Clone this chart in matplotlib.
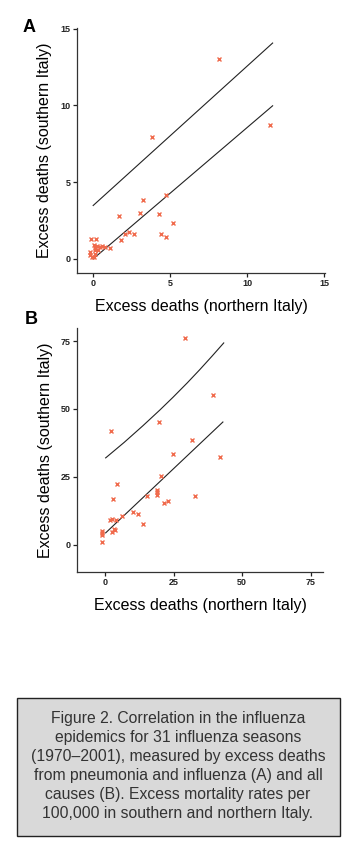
import numpy as np
import matplotlib
matplotlib.use("Agg")
import matplotlib.pyplot as plt
from matplotlib.patches import Rectangle

plt.rcParams['font.family'] = ['Liberation Sans', 'DejaVu Sans']

# panel A: pneumonia and influenza excess deaths
a_north = [8.15, 11.45, 3.85, 3.25, 4.75, 3.05, 4.3, 1.7, 5.2, 2.65, 2.3, 2.05, 1.8, 4.4, 4.7,
           1.1, 0.8, 0.58, -0.15, 0.2, 0.05, 0.25, -0.18, 0.1, -0.18, 0.15, 0.05, 0.3, -0.1, 0.1, 0.45]
a_south = [13.05, 8.75, 7.95, 3.85, 4.15, 3.0, 2.95, 2.8, 2.35, 1.6, 1.75, 1.65, 1.25, 1.65, 1.4,
           0.72, 0.76, 0.83, 1.28, 1.28, 0.9, 0.82, 0.45, 0.55, 0.25, 0.35, 0.12, 0.6, 0.1, 0.7, 0.75]
a_upper_x = [0.0, 11.65]
a_upper_y = [3.48, 14.07]
a_lower_x = [0.0, 11.65]
a_lower_y = [0.0, 9.98]

# panel B: all causes excess deaths
b_north = [29.1, 39.4, 2.2, 19.8, 31.6, 24.8, 42.1, 20.6, 4.5, 18.8, 18.8, 15.2, 32.7, 2.8, 21.5,
           23.0, 10.2, 12.1, 6.3, 13.7, 1.8, 3.9, 3.6, 2.7, -1.2, -1.2, -1.2, 18.8, 3.2, 2.4, -1.2]
b_south = [76.3, 55.0, 41.8, 45.2, 38.7, 33.4, 32.2, 25.2, 22.5, 20.3, 18.5, 17.9, 17.8, 16.9, 15.4,
           16.0, 12.0, 11.5, 10.6, 7.5, 9.3, 9.1, 5.4, 4.6, 5.0, 3.8, 1.2, 19.3, 5.9, 9.6, 4.4]
b_upper_x = [0.25, 7.0, 13.8, 20.0, 24.8, 30.0, 34.5, 39.0, 43.3]
b_upper_y = [32.0, 37.7, 43.8, 49.6, 54.3, 59.6, 64.4, 69.4, 74.3]
b_lower_x = [0.25, 43.0]
b_lower_y = [4.4, 45.2]

a_ticks = [0, 5, 10, 15]
b_ticks = [0, 25, 50, 75]

caption = ("Figure 2. Correlation in the influenza\n"
           "epidemics for 31 influenza seasons\n"
           "(1970\u20132001), measured by excess deaths\n"
           "from pneumonia and influenza (A) and all\n"
           "causes (B). Excess mortality rates per\n"
           "100,000 in southern and northern Italy.")

W, H = 354, 844
fig = plt.figure(figsize=(W / 100, H / 100), dpi=100)

marker_col = '#f06a4c'


def style(ax, ticks, xlim, ylim):
    ax.set_xlim(*xlim)
    ax.set_ylim(*ylim)
    ax.set_xticks(ticks)
    ax.set_yticks(ticks)
    for s in ['top', 'right']:
        ax.spines[s].set_visible(False)
    for s in ['left', 'bottom']:
        ax.spines[s].set_linewidth(0.9)
        ax.spines[s].set_color('#333333')
    ax.tick_params(length=3, width=0.9, labelsize=6.5, pad=1.5, colors='#222222')
    for lab in ax.get_xticklabels() + ax.get_yticklabels():
        lab.set_fontweight('bold')
    ax.set_xlabel('Excess deaths (northern Italy)', fontsize=11.5, labelpad=8)
    ax.set_ylabel('Excess deaths (southern Italy)', fontsize=11.5, labelpad=6)


axA = fig.add_axes([77 / W, 1 - 273 / H, 248 / W, 245 / H])
axA.plot(a_upper_x, a_upper_y, color='#222222', lw=0.8)
axA.plot(a_lower_x, a_lower_y, color='#222222', lw=0.8)
axA.plot(a_north, a_south, linestyle='none', marker='x', ms=3.2, mew=1.0, color=marker_col)
style(axA, a_ticks, (-1.05, 15.05), (-0.92, 15.05))

axB = fig.add_axes([77 / W, 1 - 572 / H, 246 / W, 244 / H])
axB.plot(b_upper_x, b_upper_y, color='#222222', lw=0.8)
axB.plot(b_lower_x, b_lower_y, color='#222222', lw=0.8)
axB.plot(b_north, b_south, linestyle='none', marker='x', ms=3.2, mew=1.0, color=marker_col)
style(axB, b_ticks, (-10.2, 79.5), (-10.0, 79.8))

fig.text(23 / W, 1 - 28 / H, 'A', fontsize=13, fontweight='bold', ha='left', va='center')
fig.text(25 / W, 1 - 320 / H, 'B', fontsize=13, fontweight='bold', ha='left', va='center')

fig.patches.append(Rectangle((17 / W, 1 - 836 / H), 323 / W, 138 / H, transform=fig.transFigure,
                             facecolor='#d9d9d9', edgecolor='#222222', lw=1.0))
fig.text(178 / W, 1 - 766 / H, caption, ha='center', va='center', fontsize=11.3,
         color='#333333', linespacing=1.33)

fig.savefig('out.png', dpi=100)
